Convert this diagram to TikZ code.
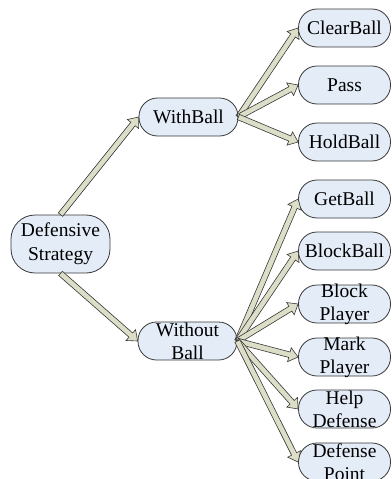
\documentclass[tikz,border=0pt]{standalone}
\usepackage{fontspec}
\setmainfont{Liberation Serif}
\usetikzlibrary{calc}
\definecolor{nodefill}{RGB}{228,236,247}
\definecolor{arrfill}{RGB}{221,222,200}
\definecolor{edgec}{RGB}{55,55,55}
\tikzset{
  box/.style={draw=edgec, fill=nodefill, line width=0.8pt, rounded corners=18.5pt,
    minimum width=99pt, minimum height=38pt, inner xsep=0pt, inner ysep=-3pt,
    align=center, font=\fontsize{19.5}{23}\selectfont},
  leaf/.style={box, minimum width=92pt},
  arrowstyle/.style={draw=edgec, fill=arrfill, line width=0.6pt, line join=miter}
}
\newcommand{\fatarr}[2]{%
  \coordinate (fA) at (#1);
  \coordinate (fB) at (#2);
  \coordinate (fH) at ($(fB)!9pt!(fA)$);
  \draw[arrowstyle] ($(fA)!2.8pt!90:(fB)$) -- ($(fH)!2.8pt!-90:(fA)$) -- ($(fH)!7.2pt!-90:(fA)$) -- (fB) -- ($(fH)!7.2pt!90:(fA)$) -- ($(fH)!2.8pt!90:(fA)$) -- ($(fA)!2.8pt!-90:(fB)$) -- cycle;
}
\begin{document}
\begin{tikzpicture}[x=1pt,y=-1pt]
\useasboundingbox (0,0) rectangle (391,479);
\clip (0,0) rectangle (391,479);
\node[box, minimum height=58pt, rounded corners=24pt, font=\fontsize{19.5}{24}\selectfont] (ds) at (60.5,244) {Defensive\\Strategy};
\node[box] (wb) at (188.5,117) {WithBall};
\node[box] (wob) at (187.5,341) {Without\\Ball};
\node[leaf] (cb) at (344.5,28) {ClearBall};
\node[leaf] (pass) at (344.5,85) {Pass};
\node[leaf] (hb) at (344.5,142) {HoldBall};
\node[leaf] (gb) at (344.5,199) {GetBall};
\node[leaf] (bb) at (344.5,251) {BlockBall};
\node[leaf] (bp) at (344.5,304) {Block\\Player};
\node[leaf] (mp) at (344.5,357) {Mark\\Player};
\node[leaf] (hd) at (344.5,409) {Help\\Defense};
\node[leaf] (dp) at (344.5,462) {Defense\\Point};
\fatarr{ds.north}{wb.west}
\fatarr{ds.south}{wob.west}
\fatarr{wb.east}{cb.west}
\fatarr{wb.east}{pass.west}
\fatarr{wb.east}{hb.west}
\fatarr{wob.east}{gb.west}
\fatarr{wob.east}{bb.west}
\fatarr{wob.east}{bp.west}
\fatarr{wob.east}{mp.west}
\fatarr{wob.east}{hd.west}
\fatarr{wob.east}{dp.west}
\end{tikzpicture}
\end{document}
